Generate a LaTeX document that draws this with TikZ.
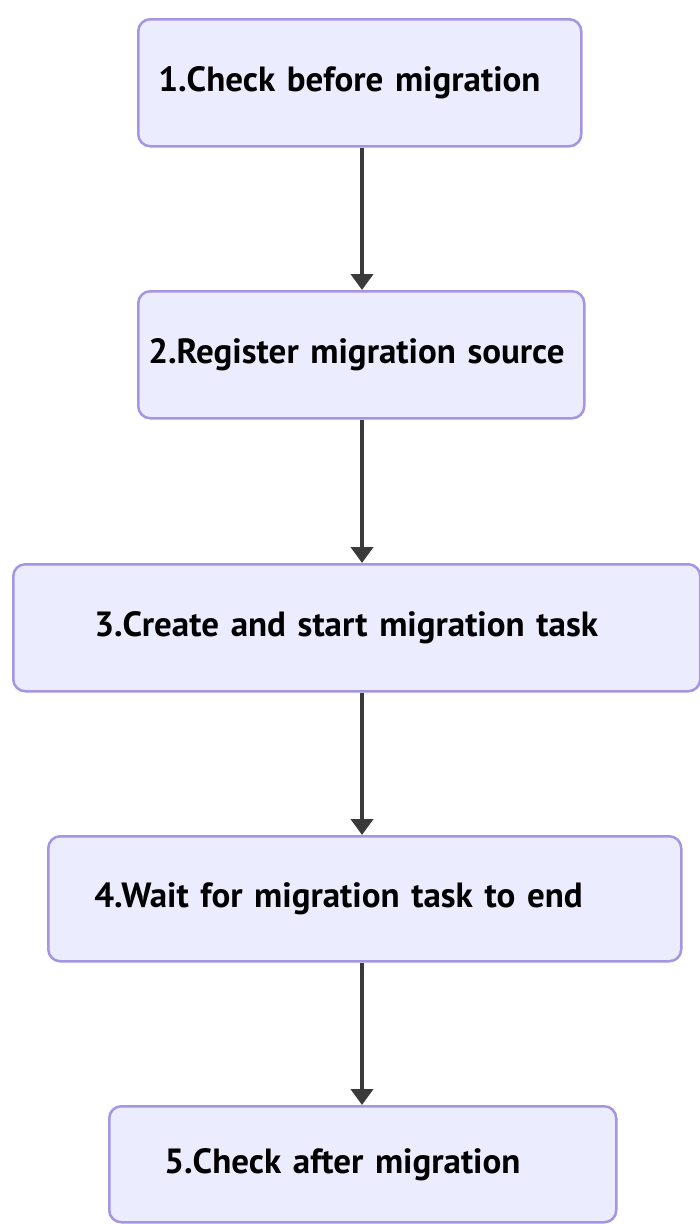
\documentclass[tikz,border=0pt]{standalone}
\usepackage{fontspec}
\setmainfont{PT Sans}
\usetikzlibrary{arrows.meta}
\definecolor{boxfill}{HTML}{ECECFF}
\definecolor{boxline}{HTML}{A595E2}
\definecolor{arrowcol}{HTML}{3A3A3A}
\begin{document}
\begin{tikzpicture}[x=1pt,y=-1pt,
  stepbox/.style={draw=boxline, fill=boxfill, line width=2.5pt, rounded corners=12pt,
    anchor=north west, minimum height=127pt, align=left,
    font=\fontsize{35}{40}\selectfont\bfseries, text=black},
  flow/.style={draw=arrowcol, line width=4pt, -{Triangle[length=16pt,width=22pt]}}]
\useasboundingbox (0,0) rectangle (700,1224);
\node[stepbox, minimum width=443pt, inner xsep=20pt, text width=403pt] (s1) at (137,18) {1.Check before migration};
\node[stepbox, minimum width=446pt, inner xsep=10pt, text width=426pt] (s2) at (137,290) {2.Register migration source};
\node[stepbox, minimum width=687pt, inner xsep=81pt, text width=525pt] (s3) at (12,563) {3.Create and start migration task};
\node[stepbox, minimum width=633pt, inner xsep=46pt, text width=541pt, minimum height=125pt] (s4) at (47,835) {4.Wait for migration task to end};
\node[stepbox, minimum width=507pt, inner xsep=55pt, text width=397pt, minimum height=116pt] (s5) at (108,1105) {5.Check after migration};
\coordinate (a1) at (362,147);
\draw[flow] (s1.south -| a1) -- (s2.north -| a1);
\draw[flow] (s2.south -| a1) -- (s3.north -| a1);
\draw[flow] (s3.south -| a1) -- (s4.north -| a1);
\draw[flow] (s4.south -| a1) -- (s5.north -| a1);
\end{tikzpicture}
\end{document}
